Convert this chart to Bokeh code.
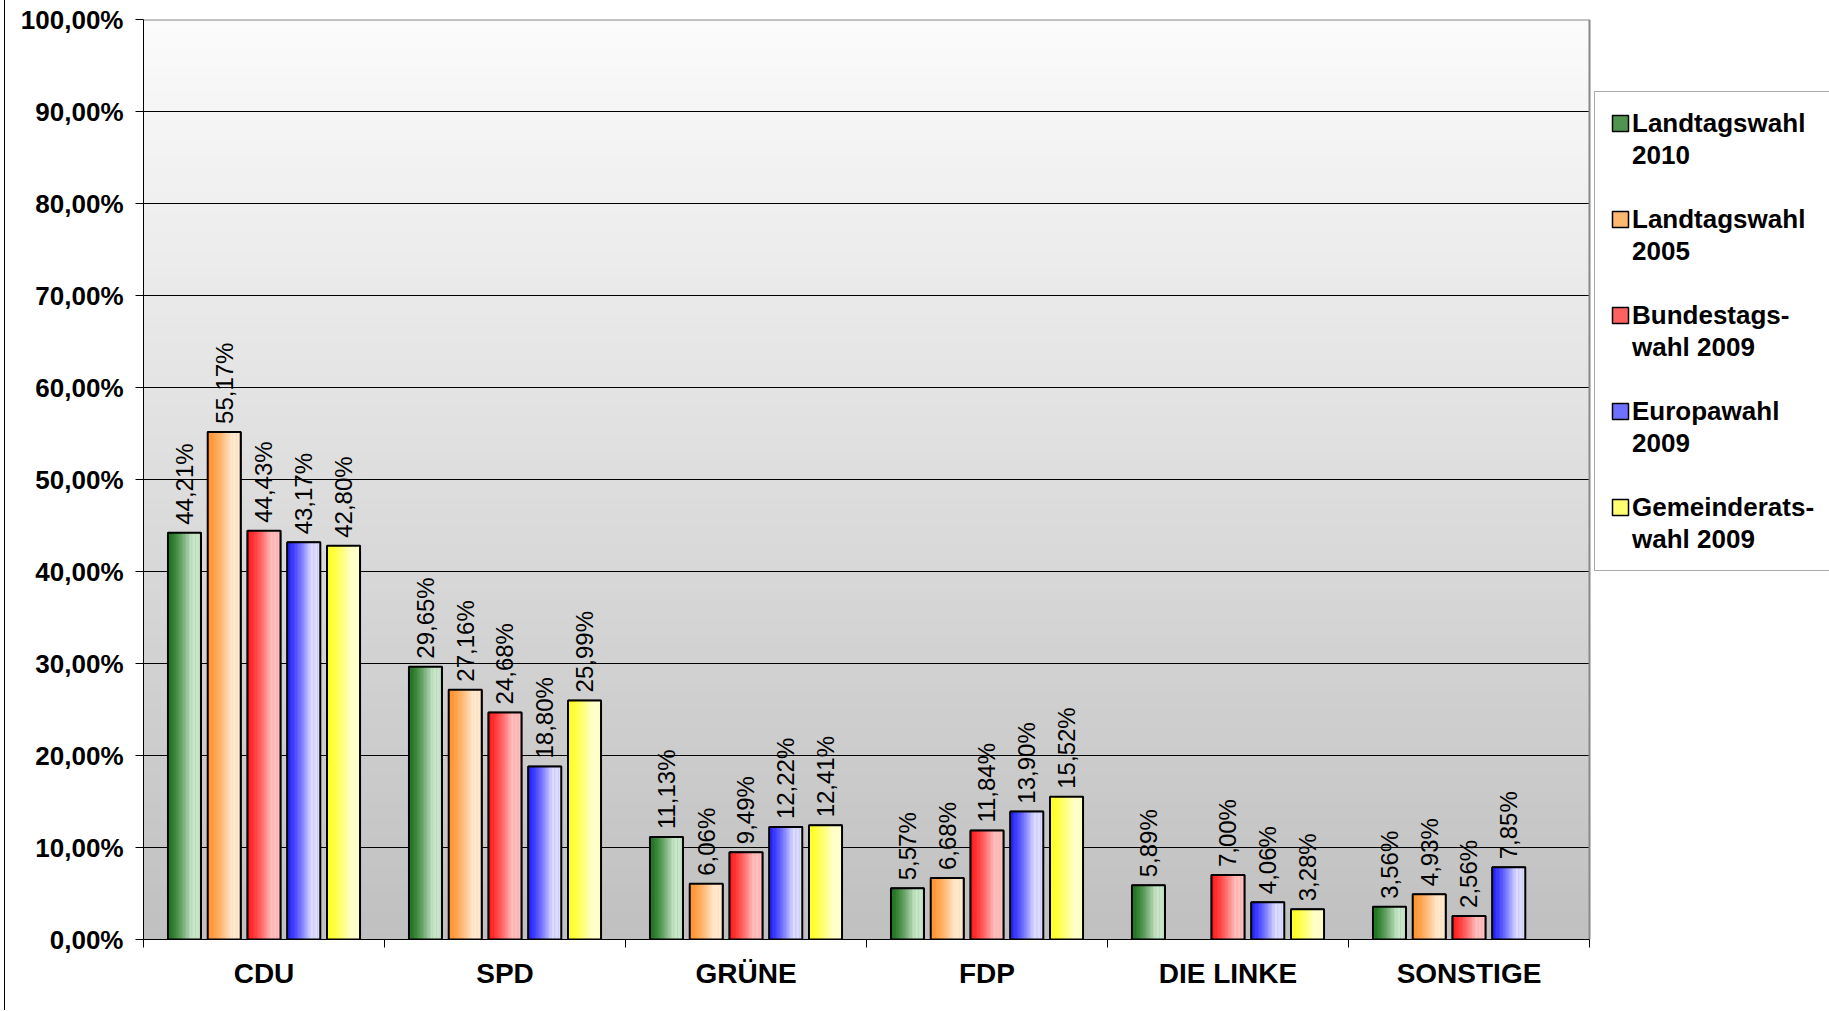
import math
from bokeh.plotting import figure
from bokeh.models import (Range1d, FixedTicker, ColumnDataSource, LabelSet,
                          Legend, LegendItem, BoxAnnotation)
from bokeh.core.properties import value
from bokeh.embed import file_html
from bokeh.resources import INLINE

# ---------------- data ----------------
parties = ["CDU", "SPD", "GRÜNE", "FDP", "DIE LINKE", "SONSTIGE"]
series_lines = [("Landtagswahl", "2010"), ("Landtagswahl", "2005"),
                ("Bundestags-", "wahl 2009"), ("Europawahl", "2009"),
                ("Gemeinderats-", "wahl 2009")]
landtag_2010 = [44.21, 29.65, 11.13, 5.57, 5.89, 3.56]
landtag_2005 = [55.17, 27.16, 6.06, 6.68, None, 4.93]
bundestag_2009 = [44.43, 24.68, 9.49, 11.84, 7.00, 2.56]
europa_2009 = [43.17, 18.80, 12.22, 13.90, 4.06, 7.85]
gemeinderat_2009 = [42.80, 25.99, 12.41, 15.52, 3.28, None]
y_ticks = [0, 10, 20, 30, 40, 50, 60, 70, 80, 90, 100]
y_tick_labels = ["0,00%", "10,00%", "20,00%", "30,00%", "40,00%", "50,00%",
                 "60,00%", "70,00%", "80,00%", "90,00%", "100,00%"]

series_values = [landtag_2010, landtag_2005, bundestag_2009, europa_2009, gemeinderat_2009]

# ---------------- style ----------------
FONT = "Liberation Sans"
dark = ["#1a701a", "#ff902a", "#ff1a1a", "#2020ff", "#ffff1c"]
light = ["#cae6ca", "#ffe8cd", "#ffbfbf", "#dcdcff", "#ffffcc"]
mid = ["#4f944f", "#ffb870", "#ff6060", "#7070ff", "#ffff70"]
offsets = [-0.33, -0.165, 0.0, 0.165, 0.33]
bw = 0.137
NSTRIP = 24
NCAT = len(parties)

# layout in pixels
W, H = 1829, 1010
FL, FT, FB = 143, 19, 71          # frame borders left/top/bottom
PLOT_RIGHT = 1589                 # right edge of the bar area
frame_w = W - FL
x_end = NCAT * frame_w / (PLOT_RIGHT - FL)


def hex2rgb(h):
    h = h.lstrip("#")
    return tuple(int(h[i:i + 2], 16) for i in (0, 2, 4))


def mix(c1, c2, t):
    a, b = hex2rgb(c1), hex2rgb(c2)
    return "#%02x%02x%02x" % tuple(int(round(a[i] + (b[i] - a[i]) * t)) for i in range(3))


p = figure(width=W, height=H, x_range=Range1d(0, x_end), y_range=Range1d(0, 100),
           output_backend="svg", toolbar_location=None,
           min_border_left=FL, min_border_top=FT, min_border_bottom=FB,
           min_border_right=0)
p.background_fill_color = "white"
p.border_fill_color = None
p.outline_line_color = None
p.styles = {"box-shadow": "inset 4px 0 0 0 white, inset 5px 0 0 0 black",
            "background-color": "white"}

# background gradient of the plot area (light top -> grey bottom)
NB = 100
for i in range(NB):
    t = i / (NB - 1)
    c = mix("#c0c0c0", "#fbfbfb", t)
    p.add_layout(BoxAnnotation(left=0, right=NCAT, bottom=i, top=min(100, i + 1.3),
                               fill_color=c, fill_alpha=1, line_color=None, level="image"))

# grid lines limited to the plot area
p.xgrid.visible = False
p.ygrid.visible = False
grid_y = [y for y in y_ticks if 0 < y < 100]
p.segment(x0=[0] * len(grid_y), x1=[NCAT] * len(grid_y), y0=grid_y, y1=grid_y,
          line_color="black", line_width=1)
# plot-area border (top and right, grey)
p.segment(x0=[0, NCAT], x1=[NCAT, NCAT], y0=[100, 0], y1=[100, 100],
          line_color="#888888", line_width=2)

# y axis
p.yaxis.ticker = FixedTicker(ticks=y_ticks)
p.yaxis.major_label_overrides = {float(k): v for k, v in zip(y_ticks, y_tick_labels)}
p.yaxis.major_label_text_font = FONT
p.yaxis.major_label_text_font_style = "bold"
p.yaxis.major_label_text_font_size = "26px"
p.yaxis.major_label_text_color = "black"
p.yaxis.major_tick_out = 8
p.yaxis.major_tick_in = 0
p.yaxis.major_tick_line_color = "black"
p.yaxis.minor_tick_line_color = None
p.yaxis.axis_line_color = "black"
p.yaxis.major_label_standoff = 12

# x axis
centers = [i + 0.5 for i in range(NCAT)]
p.xaxis.bounds = (0, NCAT)
p.xaxis.ticker = FixedTicker(ticks=centers, minor_ticks=list(range(NCAT + 1)))
p.xaxis.major_label_overrides = {float(c): n for c, n in zip(centers, parties)}
p.xaxis.major_label_text_font = FONT
p.xaxis.major_label_text_font_style = "bold"
p.xaxis.major_label_text_font_size = "28px"
p.xaxis.major_label_text_color = "black"
p.xaxis.major_tick_line_color = None
p.xaxis.minor_tick_out = 8
p.xaxis.minor_tick_in = 0
p.xaxis.minor_tick_line_color = "black"
p.xaxis.axis_line_color = "black"
p.xaxis.major_label_standoff = 10

legend_items = []
for s, vals in enumerate(series_values):
    xs, tops, cols = [], [], []
    bx, btop, lbl = [], [], []
    for i, v in enumerate(vals):
        if v is None:
            continue
        xc = centers[i] + offsets[s]
        left = xc - bw / 2
        for k in range(NSTRIP):
            t = min(1.0, ((k + 0.5) / (NSTRIP * 0.72)) ** 1.4)
            xs.append(left + (k + 0.5) * bw / NSTRIP)
            tops.append(v)
            cols.append(mix(dark[s], light[s], t))
        bx.append(xc)
        btop.append(v)
        lbl.append(("%.2f" % v).replace(".", ",") + "%")
    src = ColumnDataSource(dict(x=bx, top=btop, label=lbl))
    base = p.vbar(x="x", top="top", bottom=0, width=bw, source=src, fill_color=mid[s],
                  line_color="black", line_width=1.5)
    p.vbar(x=xs, top=tops, bottom=0, width=bw / NSTRIP * 1.2, fill_color=cols,
           line_color=None)
    p.vbar(x="x", top="top", bottom=0, width=bw, source=src, fill_color=None,
           line_color="black", line_width=2)
    blank = p.vbar(x="x", top="top", bottom=0, width=bw, source=src,
                   fill_alpha=0, line_alpha=0)
    line1, line2 = series_lines[s]
    legend_items.append(LegendItem(label=line1, renderers=[base]))
    legend_items.append(LegendItem(label=line2, renderers=[blank]))
    if s < len(series_values) - 1:
        legend_items.append(LegendItem(label=" ", renderers=[blank]))
    p.add_layout(LabelSet(x="x", y="top", text="label", source=src, angle=math.pi / 2,
                          text_align="left", text_baseline="middle", y_offset=8,
                          text_font=value(FONT), text_font_style="normal",
                          text_font_size="24px", text_color="black"))

LEG_LEFT, LEG_BOTTOM = 1594, 571
legend = Legend(items=legend_items, location=(LEG_LEFT - FL, (H - FB) - LEG_BOTTOM))
legend.label_text_font = FONT
legend.label_text_font_style = "bold"
legend.label_text_font_size = "26px"
legend.label_text_color = "black"
legend.label_text_line_height = 1.1
legend.label_height = 32
legend.glyph_width = 20
legend.glyph_height = 20
legend.label_standoff = 2
legend.spacing = 0
legend.padding = 15
legend.margin = 0
legend.border_line_color = "#555555"
legend.border_line_width = 1
legend.background_fill_color = "white"
legend.background_fill_alpha = 1
p.add_layout(legend)

open("out.html", "w").write(file_html(p, INLINE))
